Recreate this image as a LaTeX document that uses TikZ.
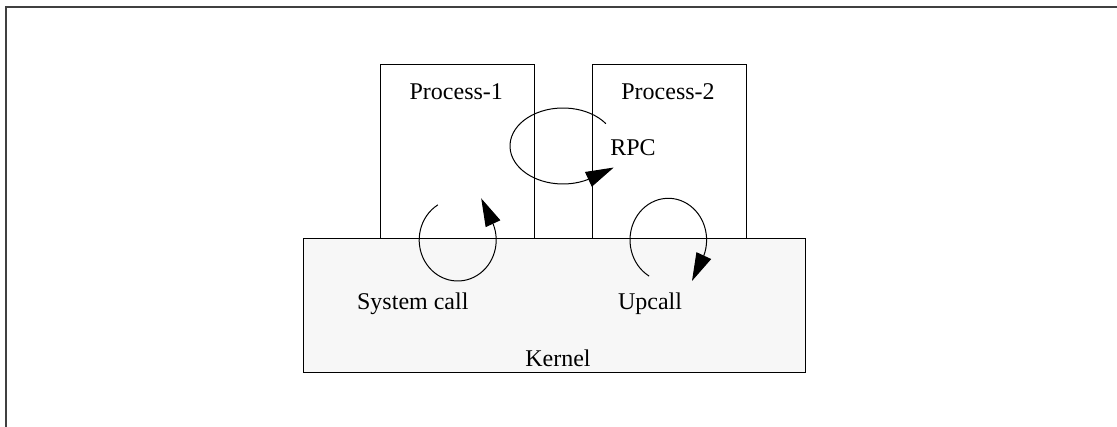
\documentclass[tikz,border=0pt]{standalone}
\usepackage{fontspec}
\setmainfont{Liberation Serif}
\usepackage{tikz}
\usetikzlibrary{arrows.meta, positioning, calc}
\definecolor{kernelgray}{HTML}{F7F7F7}
\definecolor{framegray}{HTML}{404040}
\tikzstyle{procbox}   = [rectangle, draw, minimum width=76.7pt, minimum height=86.7pt,
                         inner sep=0pt, line width=0.5pt]
\tikzstyle{kernelbox} = [rectangle, draw, fill=kernelgray, minimum width=251pt,
                         minimum height=67.2pt, inner sep=0pt, line width=0.5pt]
\tikzstyle{lbl}       = [anchor=base, inner sep=0pt, font=\fontsize{12}{14}\selectfont]
\tikzstyle{loop}      = [-{Triangle[length=14pt, width=8pt]}, line width=0.5pt]

\begin{document}
\begin{tikzpicture}[x=0.5pt, y=0.5pt]
  \useasboundingbox (0,0) rectangle (1117,427);
  \draw[line width=1pt, framegray] (6,-5) -- (6,420) -- (1125,420);

  \node[procbox] (p1) at (457.35,275.35) {};
  \node[procbox, right=28.85pt of p1] (p2) {};
  \node[kernelbox] (kernel) at (554.3,121.5) {};

  \node[lbl] (p1lbl) at (456.3,327.7) {Process-1};
  \node[lbl] (p2lbl) at (668,327.7) {Process-2};
  \node[lbl] (rpclbl) at (633,271) {RPC};
  \node[lbl] (syslbl) at (412.8,117.7) {System call};
  \node[lbl] (uplbl) at (650,117.7) {Upcall};
  \node[lbl] (klbl) at (558,60) {Kernel};

  \coordinate (sysc) at (457.7,187);
  \coordinate (rpcc) at (563,281);
  \coordinate (upc) at (668.3,187);

  \draw[loop] ($(sysc)+(121:38.5 and 41)$)
    arc[start angle=121, end angle=383.4, x radius=38.5, y radius=41] -- ++(115:14pt);
  \draw[loop] ($(rpcc)+(36:53 and 38)$)
    arc[start angle=36, end angle=298.6, x radius=53, y radius=38] -- ++(25:14pt);
  \draw[loop] ($(upc)+(240:38.3 and 41.7)$)
    arc[start angle=240, end angle=-22, x radius=38.3, y radius=41.7] -- ++(245:14pt);
\end{tikzpicture}
\end{document}
